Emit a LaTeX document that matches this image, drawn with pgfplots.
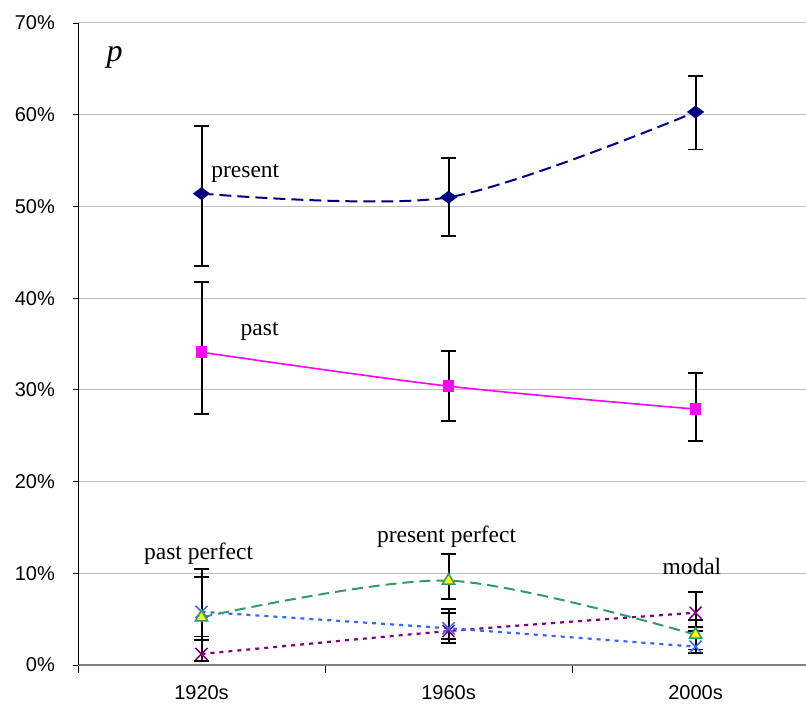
\documentclass[border=0pt]{standalone}
\usepackage{pgfplots}
\pgfplotsset{compat=1.18}
\usepackage{fontspec}
\setmainfont{Liberation Sans}
\newfontfamily\serif{Liberation Serif}
\definecolor{navyc}{HTML}{000080}
\definecolor{magc}{HTML}{FF00FF}
\definecolor{greenc}{HTML}{339966}
\definecolor{bluec}{HTML}{3366FF}
\definecolor{purpc}{HTML}{800080}
\definecolor{yelc}{HTML}{FFFF00}
\begin{document}
\begin{tikzpicture}
\begin{axis}[
 scale only axis, width=728bp, height=642bp,
 xmin=-0.5, xmax=2.447, ymin=0, ymax=70,
 axis x line=bottom, axis y line=left,
 x axis line style={-, draw=gray, line width=1.4bp},
 y axis line style={-, black, line width=0.9bp},
 xtick={0,1,2}, xticklabels={1920s,1960s,2000s},
 minor xtick={-0.5,0.5,1.5},
 ytick={0,10,20,30,40,50,60,70},
 yticklabels={0\%,10\%,20\%,30\%,40\%,50\%,60\%,70\%},
 ymajorgrids, grid style={black!25, line width=1bp},
 tick align=outside, major tick length=5bp, minor tick length=8bp,
 major x tick style={draw=none},
 tick style={black, line width=0.8bp},
 ticklabel style={font=\fontsize{20bp}{24bp}\selectfont},
 yticklabel style={anchor=east, inner sep=0pt, xshift=-18bp},
 xticklabel style={anchor=north, inner sep=0pt, yshift=-15bp},
 clip=false,
 error bars/error bar style={solid, black, line width=2bp},
 error bars/error mark options={solid, black, rotate=90, mark size=7.5bp, line width=1.8bp},
]
% present
\addplot[navyc, line width=2bp, dash pattern=on 12bp off 6bp, smooth, tension=0.5,
  mark=diamond*, mark size=7bp, mark options={solid, fill=navyc, rotate=90},
  error bars/.cd, y dir=both, y explicit]
 coordinates {(0,51.4) += (0,7.4) -= (0,7.9) (1,51.0) += (0,4.3) -= (0,4.2) (2,60.3) += (0,3.9) -= (0,4.1)};
% past
\addplot[magc, line width=1.6bp, smooth, tension=0.5,
  mark=square*, mark size=5bp, mark options={solid, fill=magc},
  error bars/.cd, y dir=both, y explicit]
 coordinates {(0,34.1) += (0,7.7) -= (0,6.7) (1,30.4) += (0,3.8) -= (0,3.8) (2,27.9) += (0,3.9) -= (0,3.5)};
% purple (modal)
\addplot[purpc, line width=2.2bp, dash pattern=on 4bp off 5bp, smooth, tension=0.5,
  mark=x, mark size=8.5bp, mark options={solid, line width=1.5bp},
  error bars/.cd, y dir=both, y explicit]
 coordinates {(0,1.2) += (0,1.5) -= (0,0.8) (1,3.7) += (0,2.0) -= (0,1.3) (2,5.7) += (0,2.3) -= (0,1.6)};
% blue (past perfect)
\addplot[bluec, line width=2.2bp, dash pattern=on 4bp off 5bp, smooth, tension=0.5,
  mark=x, mark size=8.5bp, mark options={solid, line width=1.5bp},
  error bars/.cd, y dir=both, y explicit]
 coordinates {(0,5.8) += (0,4.7) -= (0,2.7) (1,4.0) += (0,2.1) -= (0,1.2) (2,2.0) += (0,1.7) -= (0,0.7)};
% green (present perfect)
\addplot[greenc, line width=2bp, dash pattern=on 11bp off 6bp, smooth, tension=0.5,
  mark=triangle*, mark size=7bp, mark options={solid, fill=yelc, draw=greenc, line width=1.6bp},
  error bars/.cd, y dir=both, y explicit]
 coordinates {(0,5.2) += (0,4.4) -= (0,2.5) (1,9.2) += (0,2.9) -= (0,2.0) (2,3.3) += (0,1.6) -= (0,1.6)};

\node[font=\serif\itshape\fontsize{32bp}{36bp}\selectfont, inner sep=0pt] at (axis cs:-0.352,66.3) {p};
\node[anchor=base west, inner sep=0pt, font=\serif\fontsize{23.5bp}{28bp}\selectfont] at (axis cs:0.039,53.1) {present};
\node[anchor=base west, inner sep=0pt, font=\serif\fontsize{23.5bp}{28bp}\selectfont] at (axis cs:0.158,35.9) {past};
\node[anchor=base, inner sep=0pt, font=\serif\fontsize{23.5bp}{28bp}\selectfont] at (axis cs:-0.012,11.5) {past perfect};
\node[anchor=base, inner sep=0pt, font=\serif\fontsize{23.5bp}{28bp}\selectfont] at (axis cs:0.992,13.4) {present perfect};
\node[anchor=base, inner sep=0pt, font=\serif\fontsize{23.5bp}{28bp}\selectfont] at (axis cs:1.985,9.9) {modal};
\end{axis}
\pgfresetboundingbox
\path[use as bounding box] (-78bp,-39bp) rectangle (728bp,665bp);
\end{tikzpicture}
\end{document}
